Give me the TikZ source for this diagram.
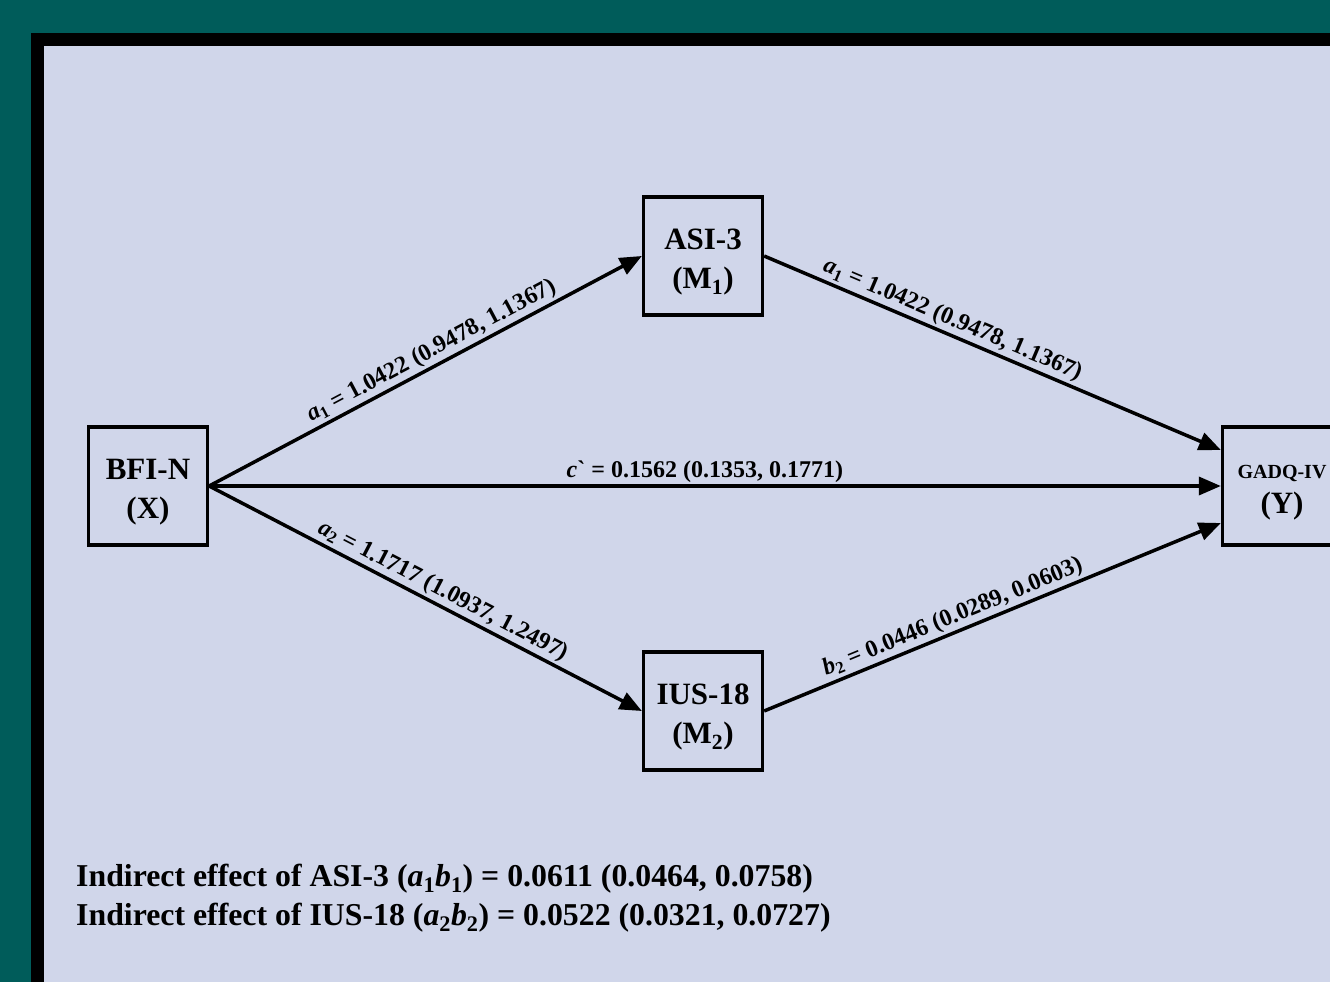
\documentclass[tikz,border=0pt]{standalone}
\usepackage{fontspec}
\setmainfont{Liberation Serif}
\usetikzlibrary{arrows.meta}
\definecolor{tealbg}{RGB}{0,92,90}
\definecolor{panel}{RGB}{208,214,234}
\newcommand{\tstrut}{\rule{0pt}{33pt}}
\begin{document}
\begin{tikzpicture}[x=1pt,y=-1pt,
  box/.style={draw, line width=3.3pt, fill=panel, minimum width=119pt, minimum height=118pt,
    align=center, inner sep=0pt, font=\fontsize{31}{39}\selectfont\bfseries},
  conn/.style={line width=3.5pt, -{Triangle[length=22pt,width=18pt]}},
  lab/.style={sloped, above, inner sep=2pt, font=\fontsize{24}{28}\selectfont\bfseries},
  note/.style={anchor=base west, inner sep=0pt, font=\fontsize{31.8}{39}\selectfont\bfseries}]
\useasboundingbox (0,0) rectangle (1330,982);
\clip (0,0) rectangle (1330,982);
\fill[tealbg] (0,0) rectangle (1330,982);
\fill[black] (31,33) rectangle (1400,1050);
\fill[panel] (44,46) rectangle (1400,1050);

\node[box] (X) at (148,486) {\tstrut BFI-N\\(X)};
\node[box] (M1) at (703,256) {\tstrut ASI-3\\(M\textsubscript{1})};
\node[box] (M2) at (703,711) {\tstrut IUS-18\\(M\textsubscript{2})};
\node[box] (Y) at (1282,486) {\rule{0pt}{26pt}{\fontsize{20}{24}\selectfont GADQ-IV}\\[-4pt](Y)};

\draw[conn] (X.east) -- node[lab,pos=0.53] {\textit{a}\textsubscript{1} = 1.0422 (0.9478, 1.1367)} (M1.west);
\draw[conn] (M1.east) -- node[lab,pos=0.4] {\textit{a}\textsubscript{1} = 1.0422 (0.9478, 1.1367)} ([yshift=36pt]Y.west);
\draw[conn] (X.east) -- node[lab,pos=0.49] {\textit{c}\textasciigrave{} = 0.1562 (0.1353, 0.1771)} (Y.west);
\draw[conn] (X.east) -- node[lab,pos=0.525] {\textit{a}\textsubscript{2} = 1.1717 (1.0937, 1.2497)} (M2.west);
\draw[conn] (M2.east) -- node[lab,pos=0.425] {\textit{b}\textsubscript{2} = 0.0446 (0.0289, 0.0603)} ([yshift=-37pt]Y.west);

\node[note] (n1) at (76,886) {Indirect effect of ASI-3 (\textit{a}\textsubscript{1}\textit{b}\textsubscript{1}) = 0.0611 (0.0464, 0.0758)};
\node[note] (n2) at (76,925) {Indirect effect of IUS-18 (\textit{a}\textsubscript{2}\textit{b}\textsubscript{2}) = 0.0522 (0.0321, 0.0727)};
\end{tikzpicture}
\end{document}
